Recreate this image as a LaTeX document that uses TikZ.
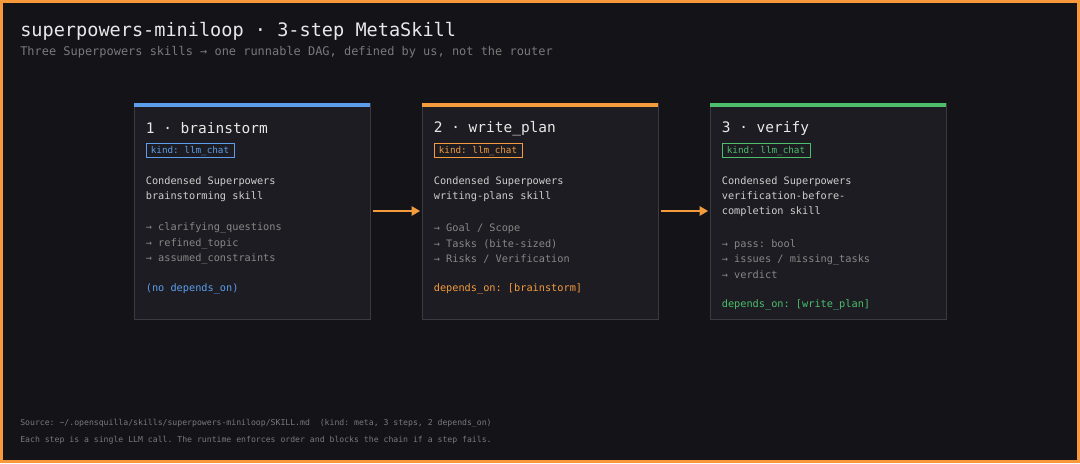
\documentclass[tikz,border=0pt]{standalone}
\usepackage{fontspec}
\setmonofont{DejaVu Sans Mono}
\usetikzlibrary{arrows.meta, positioning, calc}

\definecolor{bgdark}{HTML}{131318}
\definecolor{cardfill}{HTML}{1C1C22}
\definecolor{cardline}{HTML}{3A3A42}
\definecolor{frameorange}{HTML}{F7993A}
\definecolor{stepblue}{HTML}{5C9EEA}
\definecolor{steporange}{HTML}{F39B3D}
\definecolor{stepgreen}{HTML}{4DBE6C}
\definecolor{titlegray}{HTML}{E8E8E8}
\definecolor{bodygray}{HTML}{CFCFCF}
\definecolor{outgray}{HTML}{888888}
\definecolor{notegray}{HTML}{7A7A7A}

\begin{document}
\begin{tikzpicture}[
    x=0.025cm, y=-0.025cm,
    card/.style={draw=cardline, fill=cardfill, line width=0.6pt, minimum width=5.9cm, minimum height=5.4cm, inner sep=0pt},
    cardtitle/.style={anchor=west, inner sep=0pt, text=titlegray, font=\ttfamily\fontsize{10.3}{12}\selectfont},
    badge/.style={draw=#1, text=#1, line width=0.6pt, anchor=west, inner xsep=3.5pt, inner ysep=0pt, minimum height=10.4pt, font=\ttfamily\fontsize{6.6}{8}\selectfont},
    cardbody/.style={anchor=west, inner sep=0pt, align=left, text=bodygray, font=\ttfamily\fontsize{7.3}{10.9}\selectfont},
    outputs/.style={cardbody, text=outgray},
    deps/.style={anchor=west, inner sep=0pt, text=#1, font=\ttfamily\fontsize{7.3}{10.9}\selectfont},
    flow/.style={-{Triangle[length=6pt, width=6.5pt]}, draw=steporange, line width=1.4pt, shorten <=2pt, shorten >=1pt},
    note/.style={anchor=west, inner sep=0pt, text=notegray, font=\ttfamily\fontsize{5.8}{7}\selectfont}
]

% Frame and background
\fill[frameorange] (0,0) rectangle (1080,463);
\fill[bgdark] (3,3) rectangle (1077,460);

% Heading
\node[anchor=west, inner sep=0pt, text=titlegray, font=\ttfamily\fontsize{13.2}{15}\selectfont] (title) at (20,31) {superpowers-miniloop · 3-step MetaSkill};
\node[anchor=west, inner sep=0pt, text=notegray, font=\ttfamily\fontsize{8.5}{10}\selectfont] (subtitle) at (20,52.5) {Three Superpowers skills → one runnable DAG, defined by us, not the router};

% Step cards
\node[card] (brainstorm) at (252,211) {};
\node[card] (plan) at (540,211) {};
\node[card] (verify) at (828,211) {};

% Colour bars on top
\fill[stepblue] (brainstorm.north west) rectangle ($(brainstorm.north east)+(0,4)$);
\fill[steporange] (plan.north west) rectangle ($(plan.north east)+(0,4)$);
\fill[stepgreen] (verify.north west) rectangle ($(verify.north east)+(0,4)$);

% Card 1
\node[cardtitle] (t1) at ($(brainstorm.north west)+(12,26)$) {1 · brainstorm};
\node[badge=stepblue] (k1) at ($(brainstorm.north west)+(12,48)$) {kind: llm\_chat};
\node[cardbody] (b1) at ($(brainstorm.north west)+(12,86.5)$) {Condensed Superpowers\\brainstorming skill};
\node[outputs] (o1) at ($(brainstorm.north west)+(12,141)$) {→ clarifying\_questions\\→ refined\_topic\\→ assumed\_constraints};
\node[deps=stepblue] (d1) at ($(brainstorm.north west)+(12,186.5)$) {(no depends\_on)};

% Card 2
\node[cardtitle] (t2) at ($(plan.north west)+(12,26)$) {2 · write\_plan};
\node[badge=steporange] (k2) at ($(plan.north west)+(12,48)$) {kind: llm\_chat};
\node[cardbody] (b2) at ($(plan.north west)+(12,86.5)$) {Condensed Superpowers\\writing-plans skill};
\node[outputs] (o2) at ($(plan.north west)+(12,141)$) {→ Goal / Scope\\→ Tasks (bite-sized)\\→ Risks / Verification};
\node[deps=steporange] (d2) at ($(plan.north west)+(12,186.5)$) {depends\_on: [brainstorm]};

% Card 3
\node[cardtitle] (t3) at ($(verify.north west)+(12,26)$) {3 · verify};
\node[badge=stepgreen] (k3) at ($(verify.north west)+(12,48)$) {kind: llm\_chat};
\node[cardbody] (b3) at ($(verify.north west)+(12,94)$) {Condensed Superpowers\\verification-before-\\completion skill};
\node[outputs] (o3) at ($(verify.north west)+(12,156.5)$) {→ pass: bool\\→ issues / missing\_tasks\\→ verdict};
\node[deps=stepgreen] (d3) at ($(verify.north west)+(12,202.5)$) {depends\_on: [write\_plan]};

% Dependencies
\draw[flow] (brainstorm.east) -- (plan.west);
\draw[flow] (plan.east) -- (verify.west);

% Footer
\node[note] (src) at (20,423) {Source: \textasciitilde/.opensquilla/skills/superpowers-miniloop/SKILL.md\ \ (kind: meta, 3 steps, 2 depends\_on)};
\node[note] (rule) at (20,440.5) {Each step is a single LLM call. The runtime enforces order and blocks the chain if a step fails.};

\end{tikzpicture}
\end{document}
